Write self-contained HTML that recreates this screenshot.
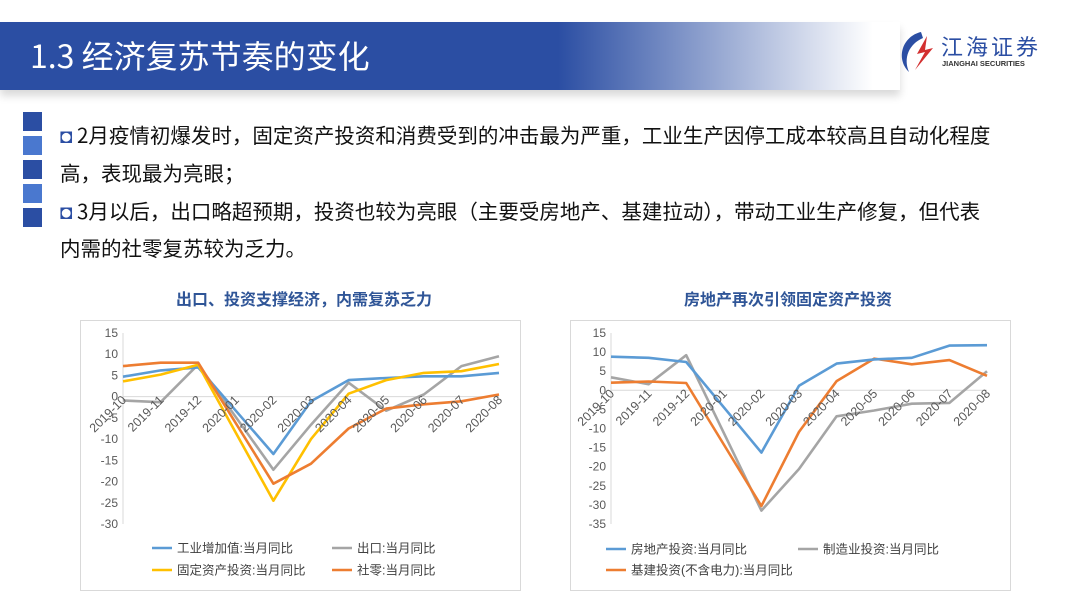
<!DOCTYPE html>
<html><head><meta charset="utf-8"><style>
body{margin:0;width:1080px;height:608px;background:#fff;overflow:hidden;position:relative;font-family:"Liberation Sans","Noto Sans CJK SC",sans-serif}
.band{position:absolute;left:0;top:22px;width:900px;height:68px;background:linear-gradient(90deg,#2b4ea3 0%,#2b4ea3 62%,rgba(43,78,163,0) 97%);box-shadow:0 6px 8px rgba(0,0,0,.15)}
.title{position:absolute;left:30px;top:32px;color:#fff;font-size:32px;font-family:"Noto Sans CJK SC",sans-serif}
.sq{position:absolute;left:23px;width:19px;height:19px}
.txt{position:absolute;left:60px;font-size:20.5px;color:#111;font-family:"Noto Sans CJK SC",sans-serif;white-space:nowrap}
.ct{position:absolute;font-size:16px;font-weight:bold;color:#2f5597;font-family:"Noto Sans CJK SC",sans-serif}
</style></head><body>
<div class="band"></div>
<div class="title">1.3 经济复苏节奏的变化</div>
<div style="position:absolute;left:893px;top:28px;width:170px;height:50px">
<svg width="48" height="48" viewBox="0 0 48 48"><path d="M28 4 C10 8 2 30 16 44 C10 30 16 16 30 10 Z" fill="#2b4ea3"/><path d="M34 8 L24 26 L32 24 L22 42 L40 20 L32 22 Z" fill="#d32f2f"/></svg>
<div style="position:absolute;left:48px;top:2px;font-size:22px;color:#2b4ea3;font-family:'Noto Sans CJK SC',sans-serif;letter-spacing:3px">江海证券</div>
<div style="position:absolute;left:49px;top:31px;font-size:7.5px;font-weight:bold;color:#333">JIANGHAI SECURITIES</div>
</div>
<div class="sq" style="top:112px;background:#2b4ea3"></div>
<div class="sq" style="top:136px;background:#4a78cf"></div>
<div class="sq" style="top:160px;background:#2b4ea3"></div>
<div class="sq" style="top:184px;background:#4a78cf"></div>
<div class="sq" style="top:208px;background:#2b4ea3"></div>
<div class="txt" style="top:119px"><span style="color:#2b4ea3">◘</span> 2月疫情初爆发时，固定资产投资和消费受到的冲击最为严重，工业生产因停工成本较高且自动化程度</div>
<div class="txt" style="top:157px">高，表现最为亮眼；</div>
<div class="txt" style="top:195px"><span style="color:#2b4ea3">◘</span> 3月以后，出口略超预期，投资也较为亮眼（主要受房地产、基建拉动），带动工业生产修复，但代表</div>
<div class="txt" style="top:232px">内需的社零复苏较为乏力。</div>
<div class="ct" style="left:176px;top:286px">出口、投资支撑经济，内需复苏乏力</div>
<div class="ct" style="left:684px;top:286px">房地产再次引领固定资产投资</div>
<svg id="c1" style="position:absolute;left:80px;top:320px" width="441" height="271"></svg>
<svg id="c2" style="position:absolute;left:570px;top:320px" width="441" height="271"></svg>
<script>
const categories=["2019-10","2019-11","2019-12","2020-01","2020-02","2020-03","2020-04","2020-05","2020-06","2020-07","2020-08"];
const c1Ticks=[15,10,5,0,-5,-10,-15,-20,-25,-30];
const c1Industry=[4.7,6.2,6.9,null,-13.5,-1.1,3.9,4.4,4.8,4.8,5.6];
const c1Export=[-0.9,-1.3,7.6,null,-17.2,-6.6,3.3,-3.3,0.5,7.2,9.5];
const c1Fai=[3.6,5.2,7.5,null,-24.5,-10.0,0.7,3.9,5.6,6.0,7.7];
const c1Retail=[7.2,8.0,8.0,null,-20.5,-15.8,-7.5,-2.8,-1.8,-1.1,0.5];
const c2Ticks=[15,10,5,0,-5,-10,-15,-20,-25,-30,-35];
const c2RealEstate=[8.8,8.5,7.4,null,-16.3,1.2,7.0,8.1,8.5,11.7,11.8];
const c2Manuf=[3.4,1.6,9.2,null,-31.5,-20.6,-6.8,-5.3,-3.5,-3.3,5.0];
const c2Infra=[2.0,2.3,1.9,null,-30.3,-10.9,2.4,8.3,6.8,7.9,3.8];
const NS="http://www.w3.org/2000/svg";
function el(svg,tag,attrs,text){const e=document.createElementNS(NS,tag);for(const k in attrs)e.setAttribute(k,attrs[k]);if(text!=null)e.textContent=text;svg.appendChild(e);return e;}
function chart(id,ticks,series,legend,plot){
 const svg=document.getElementById(id);
 el(svg,'rect',{x:0.5,y:0.5,width:440,height:270,fill:'#fff',stroke:'#d9d9d9'});
 const top=plot.top,bot=plot.bot,x0=plot.x0,x1=plot.x1;
 const vmax=ticks[0],vmin=ticks[ticks.length-1];
 const y=v=>top+(vmax-v)/(vmax-vmin)*(bot-top);
 const x=i=>x0+i*(x1-x0)/(categories.length-1);
 el(svg,'line',{x1:x0,y1:top,x2:x0,y2:bot,stroke:'#d9d9d9'});
 el(svg,'line',{x1:x0,y1:y(0),x2:x1,y2:y(0),stroke:'#d9d9d9'});
 ticks.forEach(t=>{const e=el(svg,'text',{x:x0-5,y:y(t)+4,'text-anchor':'end','font-size':12,fill:'#595959'},t);
  });
 series.forEach(s=>{let d='';s.data.forEach((v,i)=>{if(v==null)return;d+=(d?'L':'M')+x(i).toFixed(1)+','+y(v).toFixed(1);});
  const p=el(svg,'path',{d:d,fill:'none',stroke:s.color,'stroke-width':2.6,'stroke-linejoin':'round'});
  });
 categories.forEach((c,i)=>{const tx=x(i)+4,ty=y(0)+4;
  const e=el(svg,'text',{x:tx,y:ty,'text-anchor':'end','font-size':12.5,fill:'#595959',transform:`rotate(-45 ${tx} ${ty})`},c);
  });
 legend.forEach(l=>{el(svg,'line',{x1:l.x,y1:l.y,x2:l.x+20,y2:l.y,stroke:l.color,'stroke-width':2.6});
  const e=el(svg,'text',{x:l.x+25,y:l.y+4.5,'font-size':12.5,fill:'#404040'},l.label);
  });
}
chart('c1',c1Ticks,[
 {name:'line-export',data:c1Export,color:'#a5a5a5'},
 {name:'line-industry',data:c1Industry,color:'#5b9bd5'},
 {name:'line-fai',data:c1Fai,color:'#ffc000'},
 {name:'line-retail',data:c1Retail,color:'#ed7d31'}],
 [{x:72,y:228,color:'#5b9bd5',label:'工业增加值:当月同比'},{x:252,y:228,color:'#a5a5a5',label:'出口:当月同比'},
  {x:72,y:250,color:'#ffc000',label:'固定资产投资:当月同比'},{x:252,y:250,color:'#ed7d31',label:'社零:当月同比'}],
 {top:13,bot:204,x0:43,x1:419});
chart('c2',c2Ticks,[
 {name:'line-manufacturing',data:c2Manuf,color:'#a5a5a5'},
 {name:'line-infrastructure',data:c2Infra,color:'#ed7d31'},
 {name:'line-real-estate',data:c2RealEstate,color:'#5b9bd5'}],
 [{x:36,y:229,color:'#5b9bd5',label:'房地产投资:当月同比'},{x:228,y:229,color:'#a5a5a5',label:'制造业投资:当月同比'},
  {x:36,y:250,color:'#ed7d31',label:'基建投资(不含电力):当月同比'}],
 {top:13,bot:204,x0:41,x1:417});
</script>
</body></html>
